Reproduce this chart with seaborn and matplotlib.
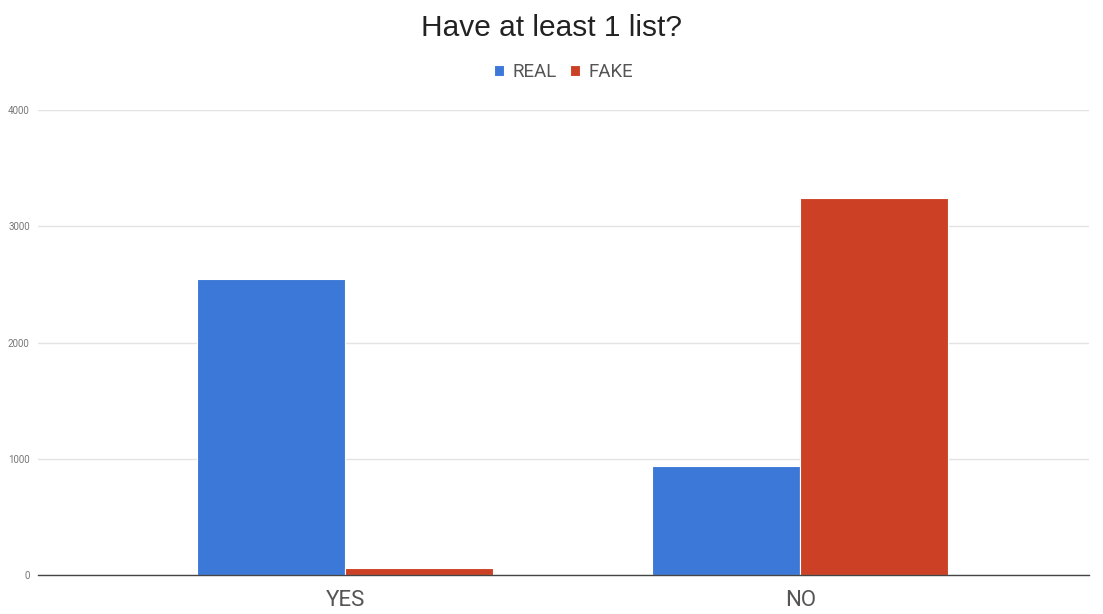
import pandas as pd
import matplotlib.pyplot as plt
import seaborn as sns

# Data
categories = ["YES", "NO"]
real_counts = [2550, 940]
fake_counts = [63, 3246]
series_names = ["REAL", "FAKE"]

df = pd.DataFrame({
    "answer": categories * 2,
    "kind": [series_names[0]] * 2 + [series_names[1]] * 2,
    "count": real_counts + fake_counts,
})

sns.set_theme(style="white")
plt.rcParams['font.family'] = ['Roboto', 'DejaVu Sans']

fig = plt.figure(figsize=(11.03, 6.14), dpi=100)
ax = fig.add_axes([0.0345, 0.0635, 0.953, 0.7573])

sns.barplot(
    data=df, x="answer", y="count", hue="kind",
    order=categories, hue_order=series_names,
    palette=["#3c78d8", "#cc4125"], saturation=1,
    width=0.65, gap=0.0, edgecolor="white", linewidth=0.8,
    ax=ax,
)

ax.set_ylim(0, 4000)
ax.set_xlim(-0.675, 1.635)
ax.set_yticks([0, 1000, 2000, 3000, 4000])
ax.yaxis.grid(True, color="#e3e3e3", linewidth=1)
ax.set_axisbelow(True)
for s in ["top", "right", "left"]:
    ax.spines[s].set_visible(False)
ax.spines["bottom"].set_color("#444444")
ax.spines["bottom"].set_linewidth(1)
ax.tick_params(axis="y", length=0, labelsize=7, labelcolor="#777777", pad=6)
ax.tick_params(axis="x", length=0, labelsize=16, labelcolor="#555555", pad=11)
ax.set_xlabel("")
ax.set_ylabel("")

handles, labels = ax.get_legend_handles_labels()
ax.legend(handles, labels, loc="center", bbox_to_anchor=(0.5, 1.082), ncol=2,
          frameon=False, fontsize=13.5, handlelength=0.55, handleheight=0.55,
          handletextpad=0.45, columnspacing=0.7, labelcolor="#555555")

fig.text(0.5, 0.955, "Have at least 1 list?", ha="center", va="center",
         fontsize=21.5, color="#222222", family=["Liberation Sans", "DejaVu Sans"])

fig.savefig("out.png", dpi=100)
